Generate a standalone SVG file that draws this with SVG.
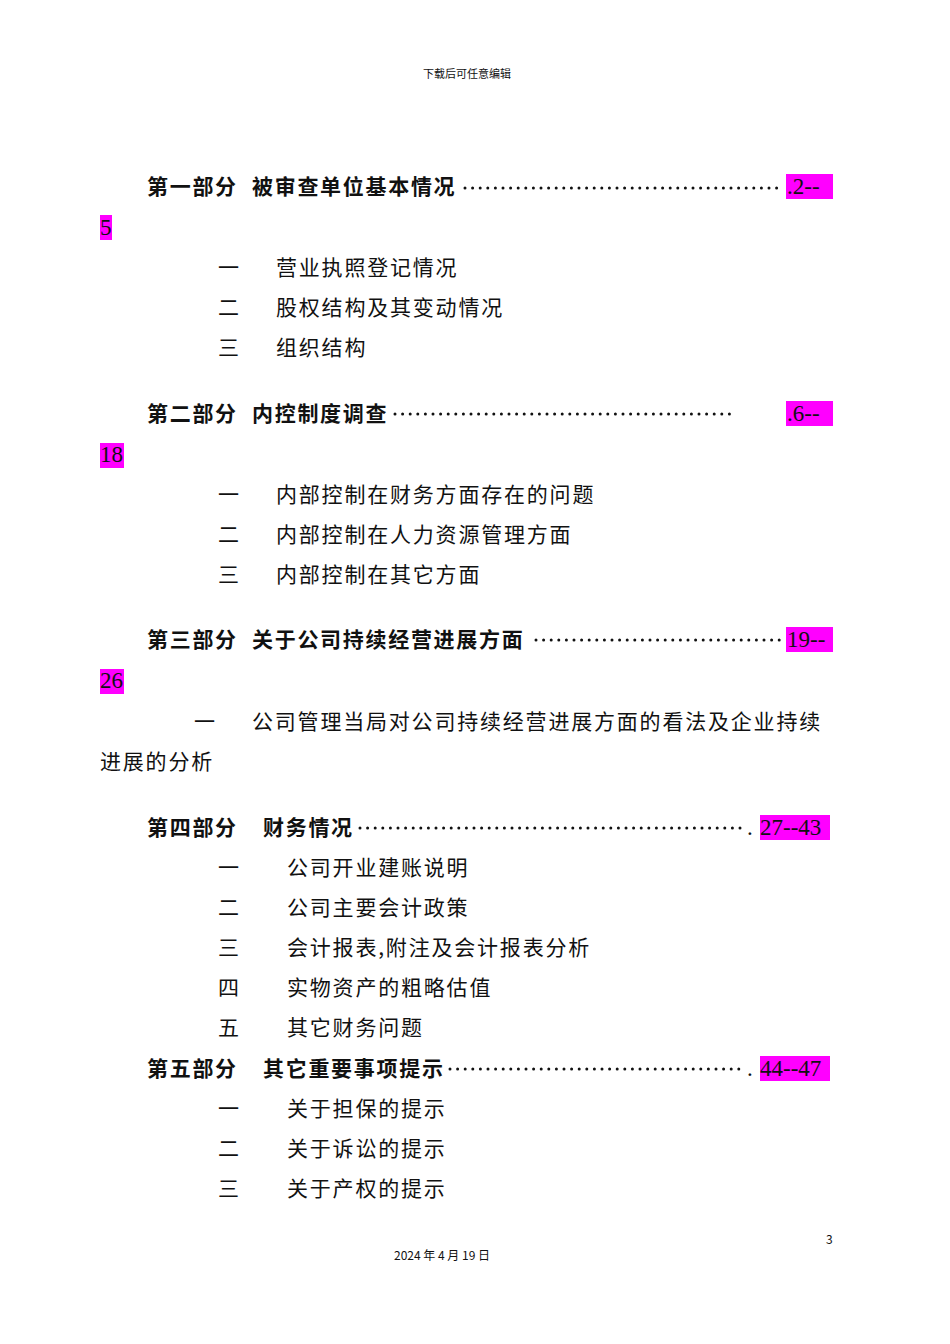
<svg xmlns="http://www.w3.org/2000/svg" width="950" height="1344" viewBox="0 0 950 1344">
<style>
text{font-family:"Noto Sans CJK SC","Noto Serif CJK SC",sans-serif;fill:#111}
.h{font-size:21px;font-weight:bold;letter-spacing:1.7px}
.b{font-size:21px;letter-spacing:1.8px}
.n{font-family:"Liberation Serif",serif;font-size:23px}
.s{font-size:11px}
.hl{fill:#ff00ff}
.dots{stroke:#111;stroke-width:3;stroke-linecap:round;stroke-dasharray:0 7.6;fill:none}
</style>
<rect width="950" height="1344" fill="#fff"/>
<text class="s" x="467" y="78" text-anchor="middle">下载后可任意编辑</text>
<g id="highlights">
<rect class="hl" x="786" y="174" width="47" height="25"/>
<rect class="hl" x="100" y="215" width="12" height="25"/>
<rect class="hl" x="786" y="401" width="47" height="25"/>
<rect class="hl" x="100" y="443" width="24" height="25"/>
<rect class="hl" x="786" y="627" width="47" height="25"/>
<rect class="hl" x="100" y="669" width="24" height="25"/>
<rect class="hl" x="760" y="815" width="70" height="25"/>
<rect class="hl" x="760" y="1056" width="70" height="25"/>
</g>
<g id="dots">
<path class="dots" d="M465 188H782M395 414H735M536 640H782M360 828H745M450 1069H745"/>
</g>
<g id="part1">
<text class="h" x="147" y="194">第一部分</text><text class="h" x="252" y="194">被审查单位基本情况</text>
<text class="n" x="787" y="194">.2--</text>
<text class="n" x="100" y="235">5</text>
<text class="b" x="218" y="275">一</text><text class="b" x="276" y="275">营业执照登记情况</text>
<text class="b" x="218" y="315">二</text><text class="b" x="276" y="315">股权结构及其变动情况</text>
<text class="b" x="218" y="355">三</text><text class="b" x="276" y="355">组织结构</text>
</g>
<g id="part2">
<text class="h" x="147" y="421">第二部分</text><text class="h" x="252" y="421">内控制度调查</text>
<text class="n" x="787" y="421">.6--</text>
<text class="n" x="100" y="462">18</text>
<text class="b" x="218" y="502">一</text><text class="b" x="276" y="502">内部控制在财务方面存在的问题</text>
<text class="b" x="218" y="542">二</text><text class="b" x="276" y="542">内部控制在人力资源管理方面</text>
<text class="b" x="218" y="582">三</text><text class="b" x="276" y="582">内部控制在其它方面</text>
</g>
<g id="part3">
<text class="h" x="147" y="647">第三部分</text><text class="h" x="252" y="647">关于公司持续经营进展方面</text>
<text class="n" x="787" y="647">19--</text>
<text class="n" x="100" y="688">26</text>
<text class="b" x="194" y="729">一</text><text class="b" x="252" y="729">公司管理当局对公司持续经营进展方面的看法及企业持续</text>
<text class="b" x="100" y="769">进展的分析</text>
</g>
<g id="part4">
<text class="h" x="147" y="835">第四部分</text><text class="h" x="263" y="835">财务情况</text>
<text class="n" x="747" y="835">.</text>
<text class="n" x="760" y="835">27--43</text>
<text class="b" x="218" y="875">一</text><text class="b" x="287" y="875">公司开业建账说明</text>
<text class="b" x="218" y="915">二</text><text class="b" x="287" y="915">公司主要会计政策</text>
<text class="b" x="218" y="955">三</text><text class="b" x="287" y="955">会计报表,附注及会计报表分析</text>
<text class="b" x="218" y="995">四</text><text class="b" x="287" y="995">实物资产的粗略估值</text>
<text class="b" x="218" y="1035">五</text><text class="b" x="287" y="1035">其它财务问题</text>
</g>
<g id="part5">
<text class="h" x="147" y="1076">第五部分</text><text class="h" x="263" y="1076">其它重要事项提示</text>
<text class="n" x="747" y="1076">.</text>
<text class="n" x="760" y="1076">44--47</text>
<text class="b" x="218" y="1116">一</text><text class="b" x="287" y="1116">关于担保的提示</text>
<text class="b" x="218" y="1156">二</text><text class="b" x="287" y="1156">关于诉讼的提示</text>
<text class="b" x="218" y="1196">三</text><text class="b" x="287" y="1196">关于产权的提示</text>
</g>
<text class="s" x="826" y="1244" style="font-size:12px">3</text>
<text class="s" x="442" y="1260" text-anchor="middle" style="font-size:12px">2024 年 4 月 19 日</text>
</svg>
